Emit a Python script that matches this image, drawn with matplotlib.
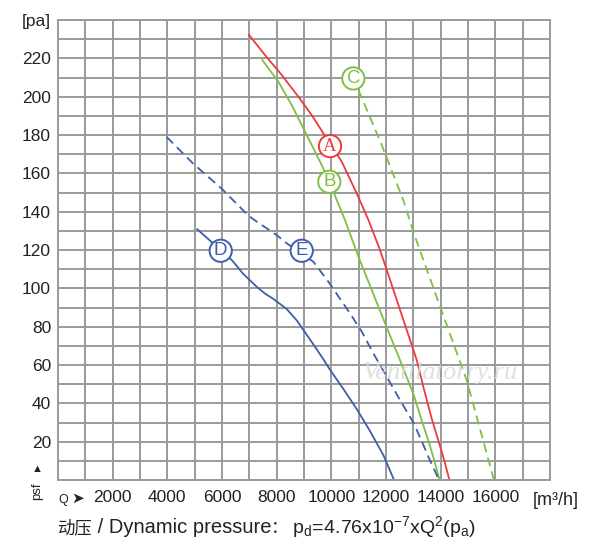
import numpy as np
import matplotlib.pyplot as plt

plt.rcParams['font.family'] = ['Liberation Sans', 'DejaVu Sans', 'Noto Sans CJK SC']
plt.rcParams['mathtext.fontset'] = 'custom'
plt.rcParams['mathtext.rm'] = 'Liberation Sans'

# curves (Q in m3/h, p in pa)
a_q = [6989, 7574, 8185, 8793, 9283, 9707, 10381, 10930, 11360, 11780, 12030,
       12758, 13124, 13404, 13673, 13917, 14136, 14320]
a_p = [232.2, 221.7, 211.3, 200, 190.4, 180.9, 166.1, 149.5, 135.6, 120, 109.5,
       78.3, 62.6, 46.5, 32, 20.5, 10, 0]
b_q = [7476, 8061, 8551, 8976, 9404, 9649, 9925, 10500, 10990, 12086, 12514,
       13015, 13308, 13551, 13770, 13960]
b_p = [219.1, 207.8, 195.6, 183.5, 171.3, 164.3, 155.6, 135.6, 116.5, 77.5, 62.5,
       44.3, 31, 20.5, 10, 0]
c_q = [10990, 11843, 12635, 13000, 13980, 14950, 15950]
c_p = [203.5, 174.8, 146, 129.5, 90.4, 52.2, 0]
d_q = [5097, 6356, 6780, 7271, 7570, 7878, 8368, 8734, 8976, 9404, 9707, 9953,
       10440, 10930, 11416, 11903, 12294]
d_p = [130.8, 114.8, 107.5, 100.8, 97.3, 94.5, 89.2, 83.3, 78.3, 69.5, 63, 57.5,
       47.5, 37, 25.5, 13, 0]
e_q = [3975, 4950, 5990, 6960, 7270, 8000, 8368, 9342, 9890, 10680, 11113, 11537,
       12027, 12540, 13000, 13300, 13600, 13940]
e_p = [179, 165, 152, 138, 134.8, 127.8, 123.5, 113.9, 103.5, 87, 77.4, 66.1,
       53.9, 41, 30, 20.5, 10.5, 0]

labels = ['A', 'B', 'C', 'D', 'E']
label_q = [9952, 9925, 10805, 5953, 8917]
label_p = [174.2, 155.6, 209.5, 119.6, 119.6]

x_ticks = [2000, 4000, 6000, 8000, 10000, 12000, 14000, 16000]
y_ticks = [20, 40, 60, 80, 100, 120, 140, 160, 180, 200, 220]

red = '#ee3a3f'
green = '#80bf45'
blue = '#3e5ea9'
ink = '#222222'

fig = plt.figure(figsize=(6, 5.49), dpi=100)
ax = fig.add_axes([58 / 600, 1 - 480 / 549, 492 / 600, 460 / 549])

ax.plot(a_q, a_p, '-', color=red, lw=1.3)
ax.plot(b_q, b_p, '-', color=green, lw=1.3)
ax.plot(c_q, c_p, '--', color=green, lw=1.3, dashes=(5, 3))
ax.plot(d_q, d_p, '-', color=blue, lw=1.3)
ax.plot(e_q, e_p, '--', color=blue, lw=1.3, dashes=(5, 3))

colors = [red, green, green, blue, blue]
for lab, q, p, c in zip(labels, label_q, label_p, colors):
    fam = ['Liberation Serif'] if lab == 'A' else ['Liberation Sans']
    ax.text(q, p, lab, color=c, fontsize=13.5, ha='center', va='center', family=fam,
            bbox=dict(boxstyle='circle,pad=0.14', fc='white', ec=c, lw=1.4), zorder=5)

ax.set_xlim(0, 18000)
ax.set_ylim(0, 240)
ax.set_xticks(np.arange(0, 18001, 1000))
ax.set_yticks(np.arange(0, 241, 10))
ax.set_xticklabels([str(v) if v in x_ticks else '' for v in range(0, 18001, 1000)])
ax.set_yticklabels([str(v) if v in y_ticks else ('[pa]' if v == 240 else '') for v in range(0, 241, 10)])
ax.tick_params(length=0, labelsize=12.5, colors=ink)
ax.tick_params(axis='x', pad=7)
ax.tick_params(axis='y', pad=5)
ax.grid(True, color='#9a9a9a', lw=1.4)
for s in ax.spines.values():
    s.set_color('#9a9a9a')
    s.set_linewidth(1.4)
ax.set_axisbelow(True)

ax.text(0, -7.5, 'Q', fontsize=9, ha='left', va='top', color=ink)
ax.text(480, -6, '\u27a4', fontsize=11, ha='left', va='top', color=ink)
ax.text(18200, -6.5, '[m\u00b3/h]', fontsize=13, ha='center', va='top', color=ink)
ax.text(-770, -1.5, 'psf', fontsize=9.5, rotation=90, ha='center', va='top', color=ink)
ax.text(-770, 3, '\u25b2', fontsize=8, ha='center', va='bottom', color=ink)

ax.text(14000, 56, 'Ventilatorry.ru', fontsize=19, style='italic', family=['Liberation Serif'],
        color='#d8d8d8', ha='center', va='center', zorder=6, alpha=0.8)

# caption line under the chart
cjk = ['Noto Sans CJK SC', 'Liberation Sans']
base = 1 - 533 / 549
fig.text(57 / 600, base, '动压', fontsize=12.5, ha='left', va='baseline', color=ink, family=cjk)
fig.text(92 / 600, base, ' / Dynamic pressure', fontsize=14.5, ha='left', va='baseline', color=ink)
fig.text(271 / 600, base, '\uff1a', fontsize=12.5, ha='left', va='baseline', color=ink, family=cjk)
fig.text(292 / 600, base, r'$\mathrm{p_d\!=\!4.76x10^{-7}xQ^2(p_a)}$', fontsize=14,
         ha='left', va='baseline', color=ink)

fig.savefig('out.png', dpi=100)
